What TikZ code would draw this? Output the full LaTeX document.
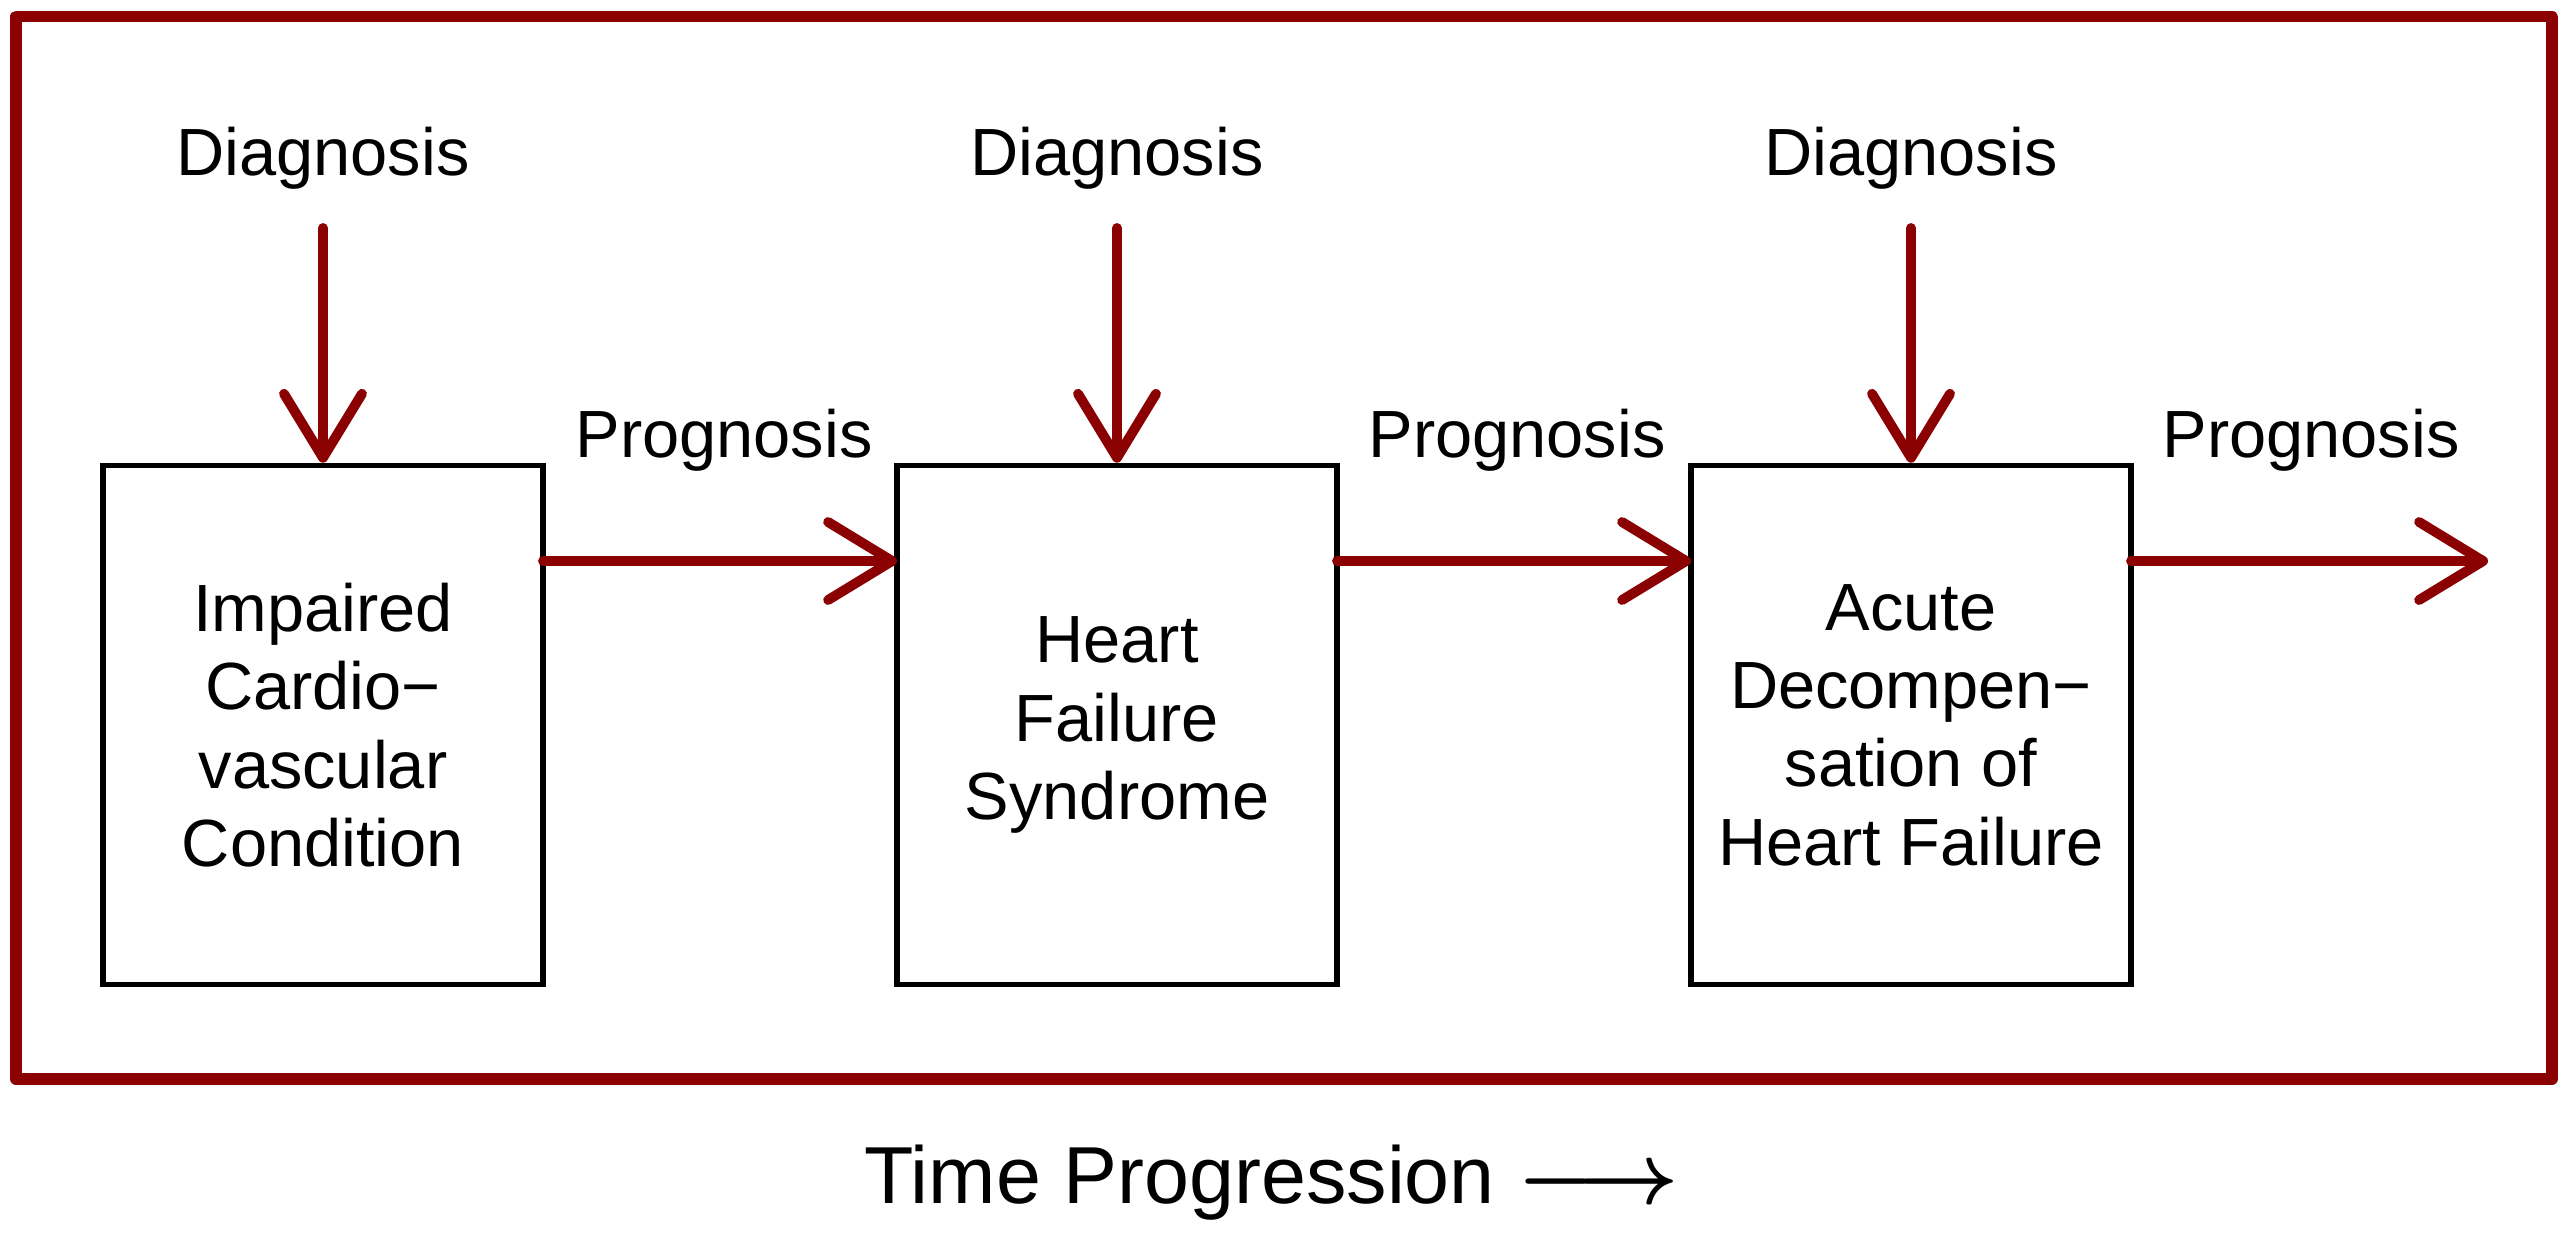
\PassOptionsToPackage{svgnames}{xcolor}
\documentclass[tikz,border=0pt]{standalone}
\usepackage{fontspec}
\setmainfont{Liberation Sans}
\usepackage{tikz}
\usetikzlibrary{arrows.meta}
\tikzstyle{none}=[inner sep=0pt]
\tikzstyle{label}=[inner sep=0pt,anchor=base,font=\fontsize{19}{22.3}\selectfont]
\tikzstyle{box}=[draw=Black,line width=1.6pt,minimum width=4.4cm,minimum height=5.19cm,inner sep=0pt,align=center,font=\fontsize{19}{22.3}\selectfont]
\tikzstyle{arrow}=[-{Straight Barb[length=0.64cm,width=0.78cm,round]},draw=DarkRed,line width=2.8pt,line cap=round]
\tikzstyle{frame}=[-,draw=DarkRed,line width=3.2pt,line join=round]

\begin{document}
\begin{tikzpicture}
  \useasboundingbox (0, 0) rectangle (25.67, -12.38);
  \node [style=none] (0) at (0.16, -0.165) {};
  \node [style=none] (1) at (25.52, -0.165) {};
  \node [style=none] (2) at (25.52, -10.79) {};
  \node [style=none] (3) at (0.16, -10.79) {};
  \node [style=box] (4) at (3.23, -7.25) {Impaired\\Cardio−\\vascular\\Condition};
  \node [style=box] (5) at (11.17, -7.25) {Heart\\Failure\\Syndrome};
  \node [style=box] (6) at (19.11, -7.25) {Acute\\Decompen−\\sation of\\Heart Failure};
  \node [style=label] (7) at (3.23, -1.75) {Diagnosis};
  \node [style=label] (8) at (11.17, -1.75) {Diagnosis};
  \node [style=label] (9) at (19.11, -1.75) {Diagnosis};
  \node [style=label] (10) at (7.24, -4.57) {Prognosis};
  \node [style=label] (11) at (15.17, -4.57) {Prognosis};
  \node [style=label] (12) at (23.11, -4.57) {Prognosis};
  \node [style=none] (13) at (3.23, -2.28) {};
  \node [style=none] (14) at (11.17, -2.28) {};
  \node [style=none] (15) at (19.11, -2.28) {};
  \node [style=none] (16) at (5.43, -5.61) {};
  \node [style=none] (17) at (8.97, -5.61) {};
  \node [style=none] (18) at (13.37, -5.61) {};
  \node [style=none] (19) at (16.91, -5.61) {};
  \node [style=none] (20) at (21.31, -5.61) {};
  \node [style=none] (21) at (24.88, -5.61) {};
  \node [style=none,anchor=base,font=\fontsize{23}{27}\selectfont] (22) at (12.72, -12.03) {Time Progression {\fontsize{24}{27}\selectfont\boldmath$\longrightarrow$}};
  \draw [style=frame] (0.center) to (1.center) to (2.center) to (3.center) to cycle;
  \draw [style=arrow] (13.center) to (4.north);
  \draw [style=arrow] (14.center) to (5.north);
  \draw [style=arrow] (15.center) to (6.north);
  \draw [style=arrow] (16.center) to (17.center);
  \draw [style=arrow] (18.center) to (19.center);
  \draw [style=arrow] (20.center) to (21.center);
\end{tikzpicture}
\end{document}
